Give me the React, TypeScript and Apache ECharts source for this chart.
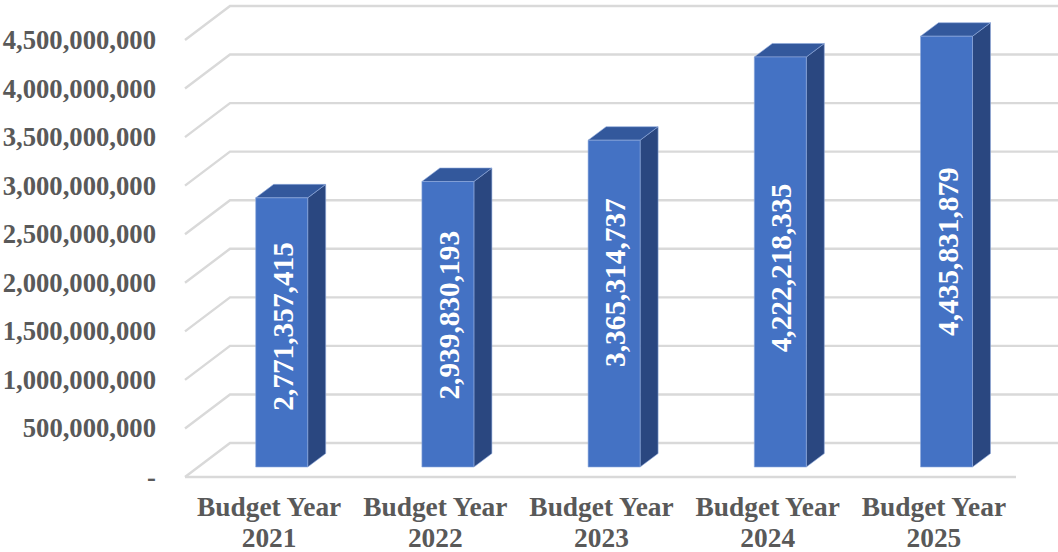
import React, { useEffect, useRef } from "react";
import * as echarts from "echarts";

const categories = ["Budget Year\n2021", "Budget Year\n2022", "Budget Year\n2023", "Budget Year\n2024", "Budget Year\n2025"];
const budgetValues = [2771357415, 2939830193, 3365314737, 4222218335, 4435831879];
const gridTicks = [0, 500000000, 1000000000, 1500000000, 2000000000, 2500000000, 3000000000, 3500000000, 4000000000, 4500000000];

const FONT = '"Liberation Serif", "Times New Roman", serif';
const WALL_DX = 45;
const WALL_DY = -34;
const BAR_DX = 13.6;
const BAR_DY = -10;
const BAR_HALF = 26;
const DEPTH_DX = 18;
const DEPTH_DY = -13.5;
const GRID_COLOR = "#d9d9d9";
const LABEL_SHIFT = [-6, -9, -21, 6, 0];

export default function App() {
  const ref = useRef<HTMLDivElement>(null);
  useEffect(() => {
    document.body.style.margin = "0";
    const chart = echarts.init(ref.current!, undefined, { renderer: "svg" });
    chart.setOption({
      animation: false,
      backgroundColor: "#ffffff",
      grid: { left: 185, right: 42, top: 40, bottom: 75, containLabel: false, outerBoundsMode: "none" },
      xAxis: {
        type: "category",
        data: categories,
        axisLine: { show: false },
        axisTick: { show: false },
        axisLabel: {
          color: "#595959",
          fontFamily: FONT,
          fontWeight: "bold",
          fontSize: 27.4,
          lineHeight: 31,
          margin: 14,
          padding: [0, 0, 0, 2],
          interval: 0,
        },
      },
      yAxis: {
        type: "value",
        min: 0,
        max: 4500000000,
        interval: 500000000,
        axisLine: { show: false },
        axisTick: { show: false },
        splitLine: { show: false },
        axisLabel: {
          color: "#595959",
          fontFamily: FONT,
          fontWeight: "bold",
          fontSize: 26.67,
          margin: 29,
          formatter: (v: number) => (v === 0 ? "-" : v.toLocaleString("en-US")),
        },
      },
      series: [
        {
          type: "custom",
          z: 1,
          silent: true,
          clip: false,
          data: gridTicks.map((t) => [0, t]),
          renderItem: (p: any, api: any) => {
            const [, y] = api.coord([0, api.value(1)]);
            const rect = p.coordSys;
            const left = rect.x;
            const right = rect.x + rect.width;
            const lineStyle = { stroke: GRID_COLOR, lineWidth: 2.4, fill: "none" };
            const children: any[] = [
              {
                type: "polyline",
                shape: { points: [[left, y], [left + WALL_DX, y + WALL_DY], [1060, y + WALL_DY]] },
                style: lineStyle,
              },
            ];
            if (api.value(1) === 0) {
              children.push({
                type: "line",
                shape: { x1: left, y1: y, x2: right, y2: y },
                style: lineStyle,
              });
            }
            return { type: "group", children };
          },
        },
        {
          type: "custom",
          z: 2,
          silent: true,
          clip: false,
          data: budgetValues.map((v, i) => [i, v]),
          renderItem: (_p: any, api: any) => {
            const i = api.value(0);
            const v = api.value(1);
            const [cx, top0] = api.coord([i, v]);
            const [, bot0] = api.coord([i, 0]);
            const l = cx + BAR_DX - BAR_HALF;
            const r = cx + BAR_DX + BAR_HALF;
            const t = top0 + BAR_DY;
            const b = bot0 + BAR_DY;
            const edge = "#8ea9db";
            return {
              type: "group",
              children: [
                {
                  type: "polygon",
                  shape: { points: [[r, t], [r + DEPTH_DX, t + DEPTH_DY], [r + DEPTH_DX, b + DEPTH_DY], [r, b]] },
                  style: { fill: "#2a4780", stroke: edge, lineWidth: 0.6 },
                },
                {
                  type: "polygon",
                  shape: { points: [[l, t], [l + DEPTH_DX, t + DEPTH_DY], [r + DEPTH_DX, t + DEPTH_DY], [r, t]] },
                  style: { fill: "#33589c", stroke: edge, lineWidth: 0.6 },
                },
                {
                  type: "rect",
                  shape: { x: l, y: t, width: r - l, height: b - t },
                  style: { fill: "#4472c4", stroke: edge, lineWidth: 0.6 },
                },
                {
                  type: "text",
                  x: (l + r) / 2 + 1,
                  y: (t + b) / 2 + LABEL_SHIFT[i],
                  rotation: Math.PI / 2,
                  style: {
                    text: Number(v).toLocaleString("en-US"),
                    fill: "#ffffff",
                    font: `bold 29.33px ${FONT}`,
                    align: "center",
                    verticalAlign: "middle",
                  },
                },
              ],
            };
          },
        },
      ],
    });
    return () => chart.dispose();
  }, []);
  return <div ref={ref} style={{ width: 1058, height: 552, position: "absolute", left: 0, top: 0 }} />;
}
